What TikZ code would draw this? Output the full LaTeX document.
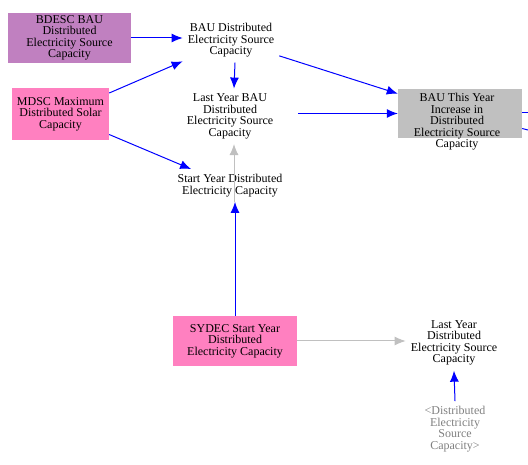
\documentclass[tikz,border=0pt]{standalone}
\usepackage{fontspec}
\setmainfont{Liberation Serif}
\usepackage{xcolor}
\usetikzlibrary{calc, positioning, arrows.meta}
\definecolor{linkblue}{RGB}{0, 0, 255}
\definecolor{ghostgray}{RGB}{192, 192, 192}
\definecolor{constpurple}{RGB}{192, 128, 192}
\definecolor{constpink}{RGB}{255, 128, 192}
\definecolor{shadowtext}{RGB}{128, 128, 128}
\tikzset{
  note/.style={align=center, font=\fontsize{12}{11.5}\selectfont, inner sep=5pt},
  link/.style={-{Latex[length=11pt, width=9pt]}, line width=1pt, draw=linkblue},
  ghostlink/.style={link, draw=ghostgray}
}

\begin{document}
\begin{tikzpicture}[
    x=1pt, y=-1pt,
    box/.style={note, inner sep=0pt, minimum width=124pt, minimum height=50pt},
    stub/.style={line width=1pt, draw=linkblue}
  ]

  \useasboundingbox (0,0) rectangle (528,465);

  \node[box, fill=constpurple, minimum width=123pt] (bdesc) at (69.5,38)
  {BDESC BAU\\Distributed\\Electricity Source\\Capacity};
  \node[box, fill=constpink, minimum width=97pt, minimum height=52pt] (mdsc) at (60.5,114)
  {MDSC Maximum\\Distributed Solar\\Capacity};
  \node[box, fill=constpink] (sydec) at (235,341)
  {SYDEC Start Year\\Distributed\\Electricity Capacity};
  \node[box, fill=ghostgray, minimum height=49pt] (bty) at (460,113.5) {};
  \node[note] (btytext) at (457,122)
  {BAU This Year\\Increase in\\Distributed\\Electricity Source\\Capacity};

  \node[note] (baudesc) at (231,40.5) {BAU Distributed\\Electricity Source\\Capacity};
  \node[note] (lybau) at (230,116.3) {Last Year BAU\\Distributed\\Electricity Source\\Capacity};
  \node[note] (syd) at (230,185.5) {Start Year Distributed\\Electricity Capacity};
  \node[note] (lyd) at (454,343) {Last Year\\Distributed\\Electricity Source\\Capacity};
  \node[note, text=shadowtext] (dsc) at (455,429)
  {<Distributed\\Electricity\\Source\\Capacity>};

  \coordinate (out1) at (528,113);
  \coordinate (out2) at (528,130);

  \draw[link] (bdesc.east) -- (bdesc.east -| baudesc.west);
  \draw[link] (mdsc) -- (baudesc);
  \draw[link] (mdsc) -- (syd);
  \draw[link] ([xshift=4pt]baudesc.south) -- ([xshift=4pt]lybau.north);
  \draw[ghostlink] ([xshift=4pt]syd.south) -- ([xshift=4pt]lybau.south);
  \draw[link] (sydec.north) -- (sydec.north |- syd.south);
  \draw[ghostlink] (sydec.east) -- (sydec.east -| lyd.west);
  \draw[link] (dsc.north) -- (lyd.south);
  \draw[link] (baudesc) -- (bty);
  \draw[link] ([xshift=20pt]lybau.east |- bty.west) -- (bty.west);

  \draw[stub] (bty.east |- out1) -- (out1);
  \draw[stub] ([yshift=-15pt]bty.east) -- (out2);

\end{tikzpicture}
\end{document}
